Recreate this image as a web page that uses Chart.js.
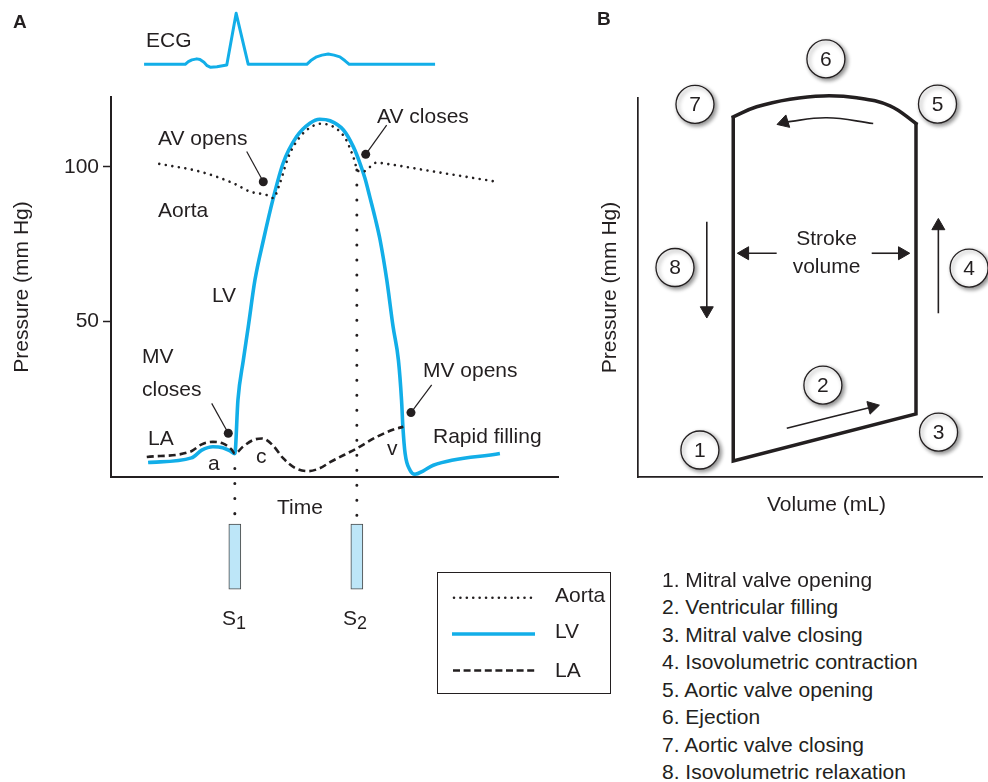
<!DOCTYPE html>
<html>
<head>
<meta charset="utf-8">
<title>Cardiac cycle: pressures over time and pressure-volume loop</title>
<script src="https://cdn.jsdelivr.net/npm/chart.js@4.4.1/dist/chart.umd.min.js"></script>
<style>
  body { margin: 0; background: #fff; }
  #page { position: relative; width: 988px; height: 782px; overflow: hidden;
          font-family: "Liberation Sans", Arial, Helvetica, sans-serif; color: #231f20; }
  canvas { position: absolute; }
  .lbl { position: absolute; font-size: 21px; line-height: 21px; white-space: nowrap; }
  .lbl.bold { font-weight: bold; font-size: 19px; line-height: 19px; }
  .lbl sub { font-size: 18px; vertical-align: -4px; line-height: 0; }
  #legend { position: absolute; left: 437px; top: 572px; }
</style>
</head>
<body>
<div id="page">
  <canvas id="ecg" width="590" height="90" style="left:0;top:0"></canvas>
  <canvas id="pressure" width="590" height="700" style="left:0;top:0"></canvas>
  <canvas id="loop" width="398" height="560" style="left:590px;top:0"></canvas>
  <canvas id="steps" width="398" height="560" style="left:590px;top:0"></canvas>
  <svg id="legend" width="174" height="122">
    <rect x="0.5" y="0.5" width="173" height="121" fill="none" stroke="#231f20" stroke-width="1"/>
    <line x1="17" y1="25.7" x2="98" y2="25.7" stroke="#231f20" stroke-width="2.6" stroke-linecap="round" stroke-dasharray="0.01 6.4"/>
    <line x1="15" y1="62" x2="98" y2="62" stroke="#12aee8" stroke-width="3.6"/>
    <line x1="16" y1="98.5" x2="98" y2="98.5" stroke="#231f20" stroke-width="2.6" stroke-dasharray="7 3.6"/>
  </svg>
</div>
<script>
// ---- panel A: time (ms, 0-1000 along the axis), pressure (mm Hg)
const ecgTime = [74, 166, 173, 181, 192, 199, 208, 215, 223, 237, 259, 280, 307, 438, 447, 460, 472, 486, 499, 512, 523, 533, 725]
const ecgVoltage = [0, 0, 0.08, 0.13, 0.16, 0.14, 0.06, -0.04, -0.09, -0.07, -0.02, 1.5, 0, 0, 0.11, 0.22, 0.27, 0.3, 0.27, 0.22, 0.11, 0, 0]

const lvTime = [83, 180, 203, 228, 250, 266, 277, 284, 296, 307, 322, 341, 363, 385, 415, 445, 467, 490, 520, 542, 557, 568, 579, 591, 602, 617, 631, 643, 650, 653, 658, 669, 680, 699, 721, 870]
const lvPressure = [4.1, 5.6, 8.1, 9.2, 8.9, 7.9, 7.0, 24.4, 37.3, 48.1, 63.3, 76.3, 89.9, 101.2, 109.8, 114.2, 115.5, 115.0, 112.0, 106.6, 101.2, 96.4, 90.3, 83.4, 76.3, 63.3, 48.2, 37.3, 24.3, 15.7, 7.0, 1.6, 0.3, 1.4, 3.2, 7.0]

const laTime = [80, 177, 203, 228, 250, 270, 277, 295, 318, 338, 362, 385, 412, 441, 468, 490, 550, 594, 632, 654]
const laPressure = [5.9, 7.6, 10.0, 10.8, 10.3, 8.3, 7.0, 9.2, 11.4, 11.9, 9.7, 5.5, 2.3, 1.3, 2.3, 4.2, 8.7, 12.4, 14.8, 15.7]

const aortaTime = [108, 199, 274, 311, 348, 363, 378, 397, 423, 449, 468, 497, 524, 542, 553, 564, 575, 594, 617, 714, 863]
const aortaPressure = [101.0, 98.5, 94.7, 92.0, 90.9, 89.9, 94.8, 103.3, 109.8, 113.1, 114.0, 113.1, 109.3, 103.3, 98.7, 98.5, 99.5, 101.4, 101.0, 98.7, 95.2]

const pressureTicks = [50, 100]

// heart sounds S1 / S2
const soundTime = [277, 550]
const soundGuideTop = [7, 99]
const soundBoxTop = -15.85
const soundBoxBottom = -37

// leader lines: AV opens, AV closes, MV closes, MV opens (text end -> dot)
const calloutTime = [[303.6, 340.7], [616.7, 569.8], [225.3, 262.4], [717.4, 671.1]]
const calloutPressure = [[105.0, 95.2], [113.6, 104.1], [23.3, 13.6], [29.3, 20.3]]

// ---- panel B: volume (mL), pressure (mm Hg)
const loopVolume = [44.3, 44.3, 129.3, 129.3]
const loopPressure = [118.8, 5.3, 20.8, 116.6]
const ejectVolume = [129.3, 117.2, 101.7, 86.2, 70.7, 55.2, 44.3]
const ejectPressure = [116.6, 122.4, 125.1, 125.7, 124.6, 122.1, 118.8]

const stepNumbers = ['1', '2', '3', '4', '5', '6', '7', '8']
const stepVolume = [28.8, 86.0, 139.8, 154.0, 139.3, 87.4, 26.5, 17.2]
const stepPressure = [8.9, 30.3, 14.8, 68.9, 123.0, 137.9, 122.9, 69.1]

// ejection, 8, 4, stroke volume left/right, filling
const arrowVolume = [[109.4, 87.8, 68.0], [32.0, 32.0], [139.7, 139.7], [64.5, 49.7], [108.7, 122.9], [69.2, 108.9]]
const arrowPressure = [[116.6, 118.5, 117.0], [84.2, 54.9], [54.0, 82.8], [73.8, 73.8], [73.8, 73.8], [16.1, 23.1]]
const arrowAngle = [253, 180, 0, 270, 90, 76]

const ink = '#231f20'
const cyan = '#12aee8'
const dotted = [0.01, 6.6]
const dashed = [7, 4]
const fontSize = 21

Chart.defaults.font.family = '"Liberation Sans", Arial, Helvetica, sans-serif'
Chart.defaults.color = ink

const series = (xs, ys) => xs.map((x, i) => ({ x: x, y: ys[i] }))

const baseOptions = (padding) => ({
    responsive: false,
    animation: false,
    events: [],
    layout: { padding: padding, autoPadding: false },
    elements: { point: { radius: 0 } },
    plugins: { legend: { display: false }, tooltip: { enabled: false } }
})

// ECG strip above panel A, sharing the same time axis
new Chart(document.getElementById('ecg'), {
    type: 'line',
    data: {
        datasets: [{
            data: series(ecgTime, ecgVoltage),
            borderColor: cyan, borderWidth: 3, borderJoinStyle: 'round', clip: false
        }]
    },
    options: Object.assign(baseOptions({ left: 111, right: 32, top: 13.3, bottom: 18.9 }), {
        scales: {
            x: { type: 'linear', display: false, min: 0, max: 1000 },
            y: { type: 'linear', display: false, min: -0.2, max: 1.5 }
        }
    })
})

const callouts = calloutTime.map((ts, i) => ({
    type: 'line',
    data: series(ts, calloutPressure[i]),
    borderColor: ink, borderWidth: 1.2,
    pointRadius: [0, 4.5], pointBackgroundColor: ink, pointBorderWidth: 0,
    clip: false
}))

new Chart(document.getElementById('pressure'), {
    type: 'line',
    data: {
        datasets: [
            {
                label: 'Aorta', data: series(aortaTime, aortaPressure),
                borderColor: ink, borderWidth: 2.6, borderDash: dotted, borderCapStyle: 'round',
                cubicInterpolationMode: 'monotone', clip: false
            },
            {
                label: 'LA', data: series(laTime, laPressure),
                borderColor: ink, borderWidth: 2.6, borderDash: dashed,
                cubicInterpolationMode: 'monotone', clip: false
            },
            {
                label: 'LV', data: series(lvTime, lvPressure),
                borderColor: cyan, borderWidth: 3.6,
                cubicInterpolationMode: 'monotone', clip: false
            },
            ...soundTime.map((t, i) => ({
                data: [{ x: t, y: soundGuideTop[i] }, { x: t, y: soundBoxTop }],
                borderColor: ink, borderWidth: 3, borderDash: [0.01, 15], borderCapStyle: 'round', clip: false
            })),
            {
                type: 'bar',
                data: soundTime.map(t => ({ x: t, y: [soundBoxTop, soundBoxBottom] })),
                backgroundColor: '#bde6f8', borderColor: '#4a4a4a', borderWidth: 1,
                borderSkipped: false, barThickness: 12, clip: false
            },
            ...callouts
        ]
    },
    options: Object.assign(baseOptions({ left: 0, right: 32, top: 97, bottom: 223 }), {
        scales: {
            x: {
                type: 'linear', min: 0, max: 1000, offset: false,
                grid: { drawOnChartArea: false, drawTicks: false, offset: false },
                ticks: { display: false },
                border: { color: ink, width: 2 },
                afterFit: s => { s.height = 0 }
            },
            y: {
                type: 'linear', min: -0.6, max: 122.7,
                afterBuildTicks: s => { s.ticks = pressureTicks.map(v => ({ value: v })) },
                grid: { drawOnChartArea: false, tickLength: 8, tickColor: ink, tickWidth: 1.5 },
                ticks: { color: ink, font: { size: fontSize }, padding: 4 },
                border: { color: ink, width: 2 },
                title: { display: true, text: 'Pressure (mm Hg)', color: ink, font: { size: fontSize }, padding: { top: 10, bottom: 0 } },
                afterFit: s => { s.width = 111 }
            }
        }
    })
})

const arrows = arrowVolume.map((vs, i) => ({
    data: series(vs, arrowPressure[i]),
    borderColor: ink, borderWidth: 1.6, tension: 0.4,
    pointStyle: 'triangle',
    pointRadius: vs.map((v, j) => j === vs.length - 1 ? 7.5 : 0),
    pointRotation: vs.map((v, j) => j === vs.length - 1 ? arrowAngle[i] : 0),
    pointBackgroundColor: ink, pointBorderColor: ink, pointBorderWidth: 1,
    clip: false
}))

new Chart(document.getElementById('loop'), {
    type: 'line',
    data: {
        datasets: [
            {
                data: series(loopVolume, loopPressure),
                borderColor: ink, borderWidth: 3.5, borderJoinStyle: 'miter', clip: false
            },
            {
                data: series(ejectVolume, ejectPressure),
                borderColor: ink, borderWidth: 3.5, tension: 0.4, borderCapStyle: 'square', clip: false
            },
            ...arrows
        ]
    },
    options: Object.assign(baseOptions({ left: 0, right: 6, top: 98, bottom: 83 }), {
        scales: {
            x: {
                type: 'linear', min: 0, max: 160,
                grid: { drawOnChartArea: false, drawTicks: false },
                ticks: { display: false },
                border: { color: ink, width: 1.7 },
                afterFit: s => { s.height = 0 }
            },
            y: {
                type: 'linear', min: 0, max: 125,
                grid: { drawOnChartArea: false, drawTicks: false },
                ticks: { display: false },
                border: { color: ink, width: 1.7 },
                title: { display: true, text: 'Pressure (mm Hg)', color: ink, font: { size: fontSize }, padding: { top: 8, bottom: 0 } },
                afterFit: s => { s.width = 48 }
            }
        }
    })
})

// circles with a soft shadow, numbers written in the middle
const stepCircles = {
    id: 'stepCircles',
    beforeDatasetDraw(chart) {
        const ctx = chart.ctx
        ctx.save()
        ctx.shadowColor = 'rgba(0,0,0,0.45)'
        ctx.shadowBlur = 4
        ctx.shadowOffsetX = 2
        ctx.shadowOffsetY = 2
    },
    afterDatasetDraw(chart, args) {
        const ctx = chart.ctx
        ctx.restore()
        ctx.save()
        ctx.font = fontSize + 'px "Liberation Sans", Arial, sans-serif'
        ctx.fillStyle = ink
        ctx.textAlign = 'center'
        ctx.textBaseline = 'middle'
        args.meta.data.forEach((pt, i) => ctx.fillText(stepNumbers[i], pt.x, pt.y + 1))
        ctx.restore()
    }
}

// same volume/pressure mapping as the loop, taller area so circle 6 above the axis is kept
new Chart(document.getElementById('steps'), {
    type: 'line',
    data: {
        datasets: [{
            data: series(stepVolume, stepPressure), showLine: false,
            pointRadius: 19, pointBackgroundColor: '#fff', pointBorderColor: ink, pointBorderWidth: 1.3,
            clip: false
        }]
    },
    options: Object.assign(baseOptions({ left: 48, right: 6, top: 22.2, bottom: 83 }), {
        scales: {
            x: { type: 'linear', display: false, min: 0, max: 160 },
            y: { type: 'linear', display: false, min: 0, max: 150 }
        }
    }),
    plugins: [stepCircles]
})

// text labels: [text, x, baseline, align, bold]
const labels = [
    ['A', 13, 28, 'left', true],
    ['B', 597, 25, 'left', true],
    ['ECG', 146, 47],
    ['AV opens', 158, 145],
    ['AV closes', 377, 123],
    ['Aorta', 158, 217],
    ['LV', 212, 302],
    ['MV', 142, 363],
    ['closes', 142, 396],
    ['LA', 148, 445],
    ['a', 208, 470],
    ['c', 256, 463],
    ['v', 387, 455],
    ['MV opens', 423, 377],
    ['Rapid filling', 433, 443],
    ['Time', 277, 514],
    ['S<sub>1</sub>', 222, 625],
    ['S<sub>2</sub>', 343, 625],
    ['Stroke', 826.5, 245, 'center'],
    ['volume', 826.5, 273, 'center'],
    ['Volume (mL)', 826.5, 511, 'center'],
    ['Aorta', 555, 602],
    ['LV', 555, 638],
    ['LA', 555, 677]
]

const phases = ['Mitral valve opening', 'Ventricular filling', 'Mitral valve closing', 'Isovolumetric contraction',
    'Aortic valve opening', 'Ejection', 'Aortic valve closing', 'Isovolumetric relaxation']
phases.forEach((p, i) => labels.push([(i + 1) + '. ' + p, 662, 586.7 + i * 27.45]))

const page = document.getElementById('page')
labels.forEach(([text, x, base, align, bold]) => {
    const d = document.createElement('div')
    d.className = 'lbl' + (bold ? ' bold' : '')
    d.innerHTML = text
    d.style.top = (base - (bold ? 19 : fontSize) * 0.8465) + 'px'
    d.style.left = x + 'px'
    if (align === 'center') d.style.transform = 'translateX(-50%)'
    page.appendChild(d)
})
</script>
</body>
</html>
